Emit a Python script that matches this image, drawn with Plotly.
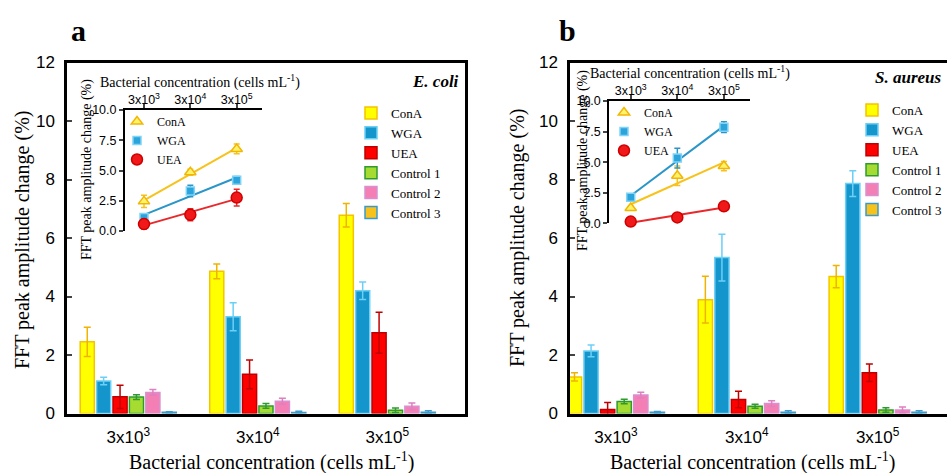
import numpy as np
import plotly.graph_objects as go

conc_labels = ["3x10<sup>3</sup>", "3x10<sup>4</sup>", "3x10<sup>5</sup>"]
series = ["ConA", "WGA", "UEA", "Control 1", "Control 2", "Control 3"]

# Panel a (E. coli): mean values and errors
a_vals = {
    "ConA":      [2.45, 4.86, 6.78],
    "WGA":       [1.11, 3.31, 4.20],
    "UEA":       [0.57, 1.34, 2.76],
    "Control 1": [0.56, 0.26, 0.11],
    "Control 2": [0.72, 0.42, 0.25],
    "Control 3": [0.04, 0.03, 0.04],
}
a_errs = {
    "ConA":      [0.50, 0.25, 0.40],
    "WGA":       [0.13, 0.48, 0.30],
    "UEA":       [0.40, 0.49, 0.70],
    "Control 1": [0.08, 0.08, 0.08],
    "Control 2": [0.10, 0.10, 0.11],
    "Control 3": [0.02, 0.05, 0.05],
}
# Panel b (S. aureus)
b_vals = {
    "ConA":      [1.25, 3.89, 4.68],
    "WGA":       [2.14, 5.33, 7.86],
    "UEA":       [0.14, 0.48, 1.39],
    "Control 1": [0.41, 0.25, 0.12],
    "Control 2": [0.63, 0.34, 0.12],
    "Control 3": [0.04, 0.04, 0.04],
}
b_errs = {
    "ConA":      [0.14, 0.80, 0.38],
    "WGA":       [0.20, 0.80, 0.44],
    "UEA":       [0.24, 0.28, 0.30],
    "Control 1": [0.08, 0.07, 0.08],
    "Control 2": [0.10, 0.10, 0.10],
    "Control 3": [0.03, 0.05, 0.05],
}

fill = {"ConA": "#FFFF00", "WGA": "#1496CC", "UEA": "#FF0000",
        "Control 1": "#A6DC32", "Control 2": "#F47FB4", "Control 3": "#F7C21B"}
edge = {"ConA": "#F5C400", "WGA": "#6CCFF6", "UEA": "#C00000",
        "Control 1": "#2F9A2F", "Control 2": "#D890D0", "Control 3": "#3A9AD0"}
errc = {"ConA": "#F0B400", "WGA": "#6CCFF6", "UEA": "#C00000",
        "Control 1": "#2F9A2F", "Control 2": "#E07FC0", "Control 3": "#3A9AD0"}

SERIF = "Liberation Serif, Times New Roman, serif"
SANS = "Liberation Sans, Arial, sans-serif"

x = [0, 1, 2]
fig = go.Figure()

for vals, errs, xa, ya, lg in [(a_vals, a_errs, "x", "y", "legend"),
                               (b_vals, b_errs, "x2", "y2", "legend2")]:
    for s in series:
        fig.add_trace(go.Bar(
            x=x, y=vals[s], name=s, xaxis=xa, yaxis=ya, legend=lg,
            marker=dict(color=fill[s], line=dict(color=edge[s], width=1.5)),
            error_y=dict(type="data", array=errs[s], color=errc[s],
                         thickness=1.5, width=3.5),
        ))

# Insets
lectins = ["ConA", "WGA", "UEA"]
msym = {"ConA": "triangle-up", "WGA": "square", "UEA": "circle"}
msize = {"ConA": 10, "WGA": 8, "UEA": 11}
mfill = {"ConA": "#FFF36B", "WGA": "#2BA3DB", "UEA": "#F01818"}
mline = {"ConA": "#F2B705", "WGA": "#7FD3F7", "UEA": "#D00000"}
lcol = {"ConA": "#F7C21B", "WGA": "#2A95C8", "UEA": "#E8282B"}

for vals, errs, xa, ya, lg in [(a_vals, a_errs, "x3", "y3", "legend3"),
                               (b_vals, b_errs, "x4", "y4", "legend4")]:
    for s in lectins:
        k, c = np.polyfit(x, vals[s], 1)
        fig.add_trace(go.Scatter(
            x=[0, 2], y=[c, 2 * k + c], mode="lines", xaxis=xa, yaxis=ya,
            line=dict(color=lcol[s], width=2), showlegend=False, hoverinfo="skip"))
    for s in lectins:
        fig.add_trace(go.Scatter(
            x=x, y=vals[s], mode="markers", name=s, xaxis=xa, yaxis=ya, legend=lg,
            marker=dict(symbol=msym[s], size=msize[s], color=mfill[s],
                        line=dict(color=mline[s], width=1.5)),
            error_y=dict(type="data", array=errs[s], color=lcol[s],
                         thickness=1.5, width=3),
            cliponaxis=False))

W, H = 947, 473
def px_x(p): return p / W
def px_y(p): return 1 - p / H

main_y = dict(range=[0, 12], domain=[px_y(413.5), px_y(62.5)], showline=True,
              linecolor="black", linewidth=2.5, ticks="inside", ticklen=5,
              tickwidth=2, tickvals=[0, 2, 4, 6, 8, 10, 12], showgrid=False,
              zeroline=False, tickfont=dict(family=SANS, size=17, color="black"),
              ticklabelstandoff=6)
main_x = dict(showline=True, linecolor="black", linewidth=2.5, mirror=True,
              ticks="", tickvals=x, ticktext=conc_labels, showgrid=False,
              zeroline=False, tickfont=dict(family=SANS, size=17, color="black"),
              ticklabelstandoff=6)
inset_y = dict(range=[0, 10], showline=True, linecolor="black", linewidth=2,
               ticks="outside", ticklen=4, tickwidth=2,
               tickvals=[0, 2.5, 5, 7.5, 10], ticktext=["0.0", "2.5", "5.0", "7.5", "10.0"],
               showgrid=False, zeroline=False,
               tickfont=dict(family=SANS, size=12.5, color="black"))
inset_x = dict(side="top", showline=True, linecolor="black", linewidth=2,
               ticks="outside", ticklen=4, tickwidth=2, tickvals=x, ticktext=conc_labels,
               showgrid=False, zeroline=False, ticklabelstandoff=-5,
               tickfont=dict(family=SANS, size=12.5, color="black"))

LEG = dict(xanchor="left", yanchor="top", bgcolor="rgba(0,0,0,0)", tracegroupgap=0)

fig.update_layout(
    width=W, height=H, margin=dict(l=0, r=0, t=0, b=0, autoexpand=False),
    paper_bgcolor="white", plot_bgcolor="rgba(0,0,0,0)",
    barmode="group", bargap=0.24, bargroupgap=0.14,
    xaxis=dict(main_x, domain=[px_x(67), px_x(465)], range=[-0.473, 2.6], anchor="y"),
    yaxis=dict(main_y, mirror=True, anchor="x"),
    xaxis2=dict(main_x, domain=[px_x(570), 1.0], range=[-0.351, 2.53], anchor="y2"),
    yaxis2=dict(main_y, anchor="x2"),
    xaxis3=dict(inset_x, domain=[px_x(125), px_x(261.7)], range=[-0.41, 2.54], anchor="y3"),
    yaxis3=dict(inset_y, domain=[px_y(231), px_y(110)], anchor="x3"),
    xaxis4=dict(inset_x, domain=[px_x(609.3), px_x(750)], range=[-0.46, 2.56], anchor="y4"),
    yaxis4=dict(inset_y, domain=[px_y(223.3), px_y(101)], anchor="x4"),
    legend=dict(LEG, x=px_x(351), y=px_y(98),
                font=dict(family=SERIF, size=13, color="black")),
    legend2=dict(LEG, x=1.0, xanchor="right", y=px_y(95),
                 font=dict(family=SERIF, size=13, color="black")),
    legend3=dict(LEG, x=px_x(117), y=px_y(107),
                 font=dict(family=SERIF, size=12, color="black")),
    legend4=dict(LEG, x=px_x(604), y=px_y(98),
                 font=dict(family=SERIF, size=12, color="black")),
    showlegend=True,
)

def ann(text, xp, yp, size, xanchor="center", angle=0, bold=False, italic=False, family=SERIF):
    t = text
    if italic:
        t = "<i>" + t + "</i>"
    if bold:
        t = "<b>" + t + "</b>"
    fig.add_annotation(text=t, x=px_x(xp), y=px_y(yp), xref="paper", yref="paper",
                       xanchor=xanchor, yanchor="middle", showarrow=False, textangle=angle,
                       font=dict(family=family, size=size, color="black"))

ann("a", 78, 30, 30, bold=True)
ann("b", 567, 30, 30, bold=True)
ann("E. coli", 461, 82, 17, xanchor="right", bold=True, italic=True)
ann("S. aureus", 873, 77, 17, xanchor="left", bold=True, italic=True)
ann("FFT peak amplitude change (%)", 22, 240, 20, angle=-90)
ann("FFT peak amplitude change (%)", 517, 238, 20, angle=-90)
ann("Bacterial concentration (cells mL<sup>-1</sup>)", 271, 461, 20)
ann("Bacterial concentration (cells mL<sup>-1</sup>)", 752, 461, 20)
ann("FFT peak amplitude change (%)", 87, 170, 14, angle=-90)
ann("FFT peak amplitude change (%)", 583, 161, 14, angle=-90)
ann("Bacterial concentration (cells mL<sup>-1</sup>)", 200, 82, 14)
ann("Bacterial concentration (cells mL<sup>-1</sup>)", 690, 73, 14)

fig.write_html("out.html", config={"displayModeBar": False},
               post_script="document.body.style.margin='0px';document.body.style.overflow='hidden';")
